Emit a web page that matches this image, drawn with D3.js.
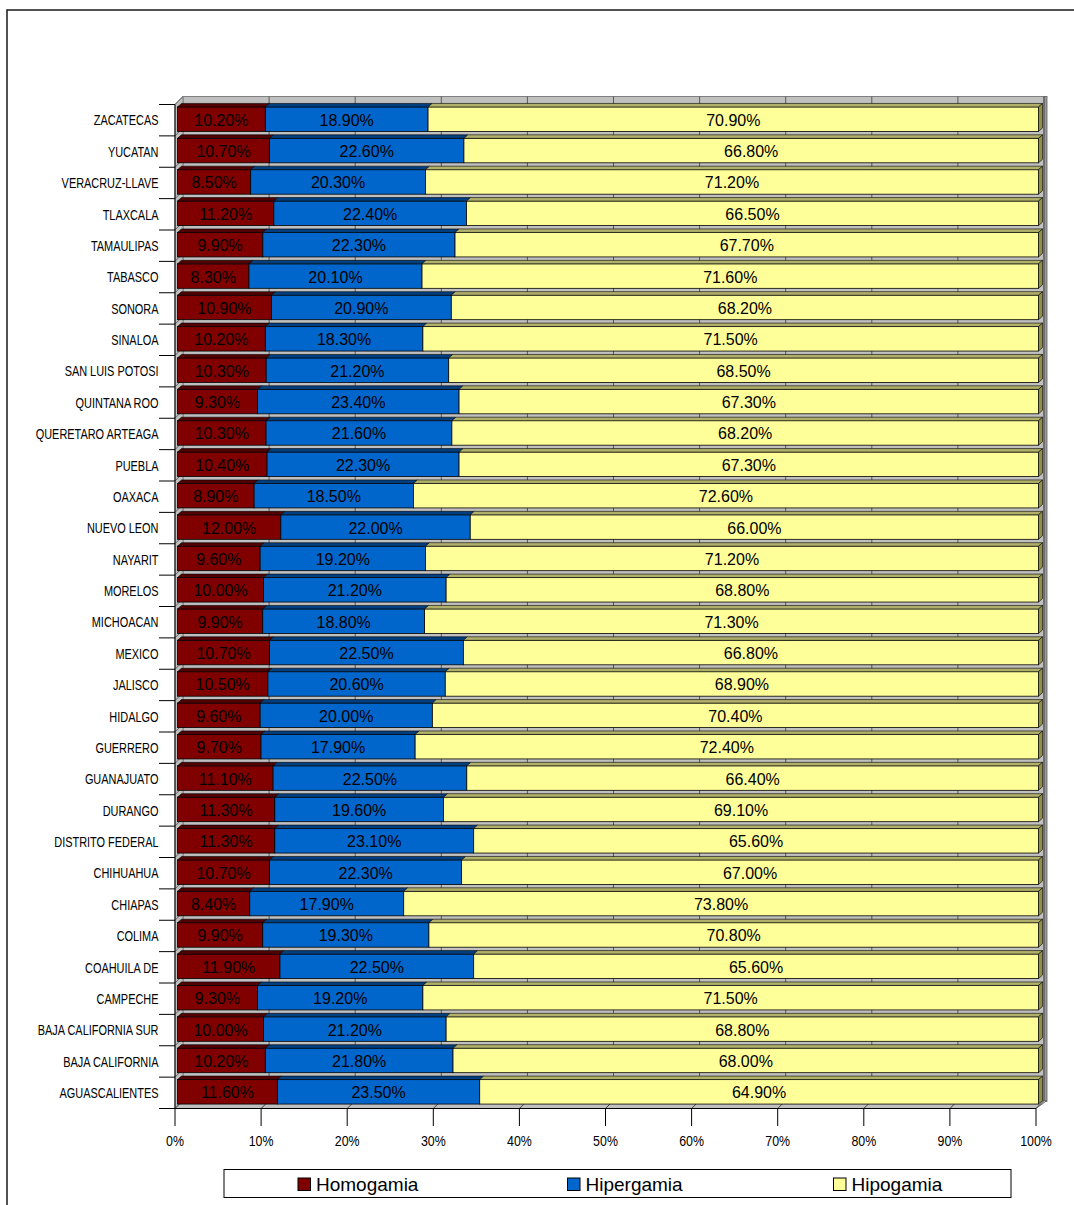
<!DOCTYPE html>
<html><head><meta charset="utf-8">
<script src="https://cdn.jsdelivr.net/npm/d3@7"></script>
<style>body{margin:0;background:#fff} svg{display:block}</style>
</head><body>
<script>
const categories = ["ZACATECAS","YUCATAN","VERACRUZ-LLAVE","TLAXCALA","TAMAULIPAS","TABASCO","SONORA","SINALOA","SAN LUIS POTOSI","QUINTANA ROO","QUERETARO ARTEAGA","PUEBLA","OAXACA","NUEVO LEON","NAYARIT","MORELOS","MICHOACAN","MEXICO","JALISCO","HIDALGO","GUERRERO","GUANAJUATO","DURANGO","DISTRITO FEDERAL","CHIHUAHUA","CHIAPAS","COLIMA","COAHUILA DE","CAMPECHE","BAJA CALIFORNIA SUR","BAJA CALIFORNIA","AGUASCALIENTES"];
const homogamia  = [10.2,10.7,8.5,11.2,9.9,8.3,10.9,10.2,10.3,9.3,10.3,10.4,8.9,12.0,9.6,10.0,9.9,10.7,10.5,9.6,9.7,11.1,11.3,11.3,10.7,8.4,9.9,11.9,9.3,10.0,10.2,11.6];
const hipergamia = [18.9,22.6,20.3,22.4,22.3,20.1,20.9,18.3,21.2,23.4,21.6,22.3,18.5,22.0,19.2,21.2,18.8,22.5,20.6,20.0,17.9,22.5,19.6,23.1,22.3,17.9,19.3,22.5,19.2,21.2,21.8,23.5];
const hipogamia  = [70.9,66.8,71.2,66.5,67.7,71.6,68.2,71.5,68.5,67.3,68.2,67.3,72.6,66.0,71.2,68.8,71.3,66.8,68.9,70.4,72.4,66.4,69.1,65.6,67.0,73.8,70.8,65.6,71.5,68.8,68.0,64.9];
const seriesNames = ["Homogamia","Hipergamia","Hipogamia"];
const xTicks = [0,0.1,0.2,0.3,0.4,0.5,0.6,0.7,0.8,0.9,1.0];

const series = [homogamia, hipergamia, hipogamia];
const frontColors = ["#800000","#0066CC","#FFFF99"];
const topColors = ["#520000","#003f80","#b0b06a"];
const sideColor = "#8f8f48";

const W = 1074, H = 1205;
const svg = d3.select("body").append("svg").attr("width", W).attr("height", H)
  .style("font-family", "'Liberation Sans', Arial, sans-serif");

const x = d3.scaleLinear().domain([0, 1]).range([175, 1036]);
const y = d3.scaleBand().domain(categories).range([104.5, 1108.5]).padding(0);
const DX = 8, DY = -8;       // wall depth
const BX = 2.5, BY = -1;     // bar front offset
const BDX = 4, BDY = -3.5;   // bar depth
const BH = 24.5;             // bar front height
const y0 = y.range()[0], y1 = y.range()[1];

// outer frame
svg.append("path").attr("d", `M7,${H} L7,10 L${W},10`).attr("fill", "none")
  .attr("stroke", "#1a1a1a").attr("stroke-width", 1.5);

// back wall
svg.append("rect").attr("x", x(0) + DX).attr("y", y0 + DY)
  .attr("width", x(1) - x(0)).attr("height", y1 - y0)
  .attr("fill", "#c0c0c0").attr("stroke", "#808080").attr("stroke-width", 1);
svg.append("rect").attr("x", x(1) + DX).attr("y", y0 + DY)
  .attr("width", 3).attr("height", y1 - y0 + 1)
  .attr("fill", "#9a9a9a").attr("stroke", "#606060").attr("stroke-width", 0.8);
// side wall
svg.append("polygon")
  .attr("points", [[x(0), y0], [x(0) + DX, y0 + DY], [x(0) + DX, y1 + DY], [x(0), y1]].join(" "))
  .attr("fill", "#c0c0c0").attr("stroke", "#808080").attr("stroke-width", 1);
// floor
svg.append("polygon")
  .attr("points", [[x(0), y1], [x(0) + DX, y1 + DY], [x(1) + DX + 3, y1 + DY], [x(1), y1]].join(" "))
  .attr("fill", "#c0c0c0").attr("stroke", "#707070").attr("stroke-width", 1);

// back-wall gridlines
svg.append("g").selectAll("line").data(xTicks.slice(1)).join("line")
  .attr("x1", d => x(d) + DX).attr("x2", d => x(d) + DX)
  .attr("y1", y0 + DY).attr("y2", y1 + DY)
  .attr("stroke", "#5a5a5a").attr("stroke-width", 1);
// floor gridlines
svg.append("g").selectAll("line").data(xTicks.slice(1)).join("line")
  .attr("x1", d => x(d)).attr("x2", d => x(d) + DX)
  .attr("y1", y1).attr("y2", y1 + DY)
  .attr("stroke", "#404040").attr("stroke-width", 1);
// side wall band lines
const bounds = categories.map(c => y(c)).concat([y1]);
svg.append("g").selectAll("line").data(bounds).join("line")
  .attr("x1", x(0)).attr("x2", x(0) + DX)
  .attr("y1", d => d).attr("y2", d => d + DY)
  .attr("stroke", "#606060").attr("stroke-width", 1);

// bars
const gBars = svg.append("g");
categories.forEach((c, i) => {
  const vals = series.map(s => s[i]);
  const total = d3.sum(vals);
  const yc = y(c) + y.bandwidth() / 2;
  const top = yc - BH / 2 + BY;
  let cum = 0;
  const segs = vals.map((v, j) => {
    const a = x(cum / total) + BX; cum += v;
    const b = x(cum / total) + BX;
    return {a, b, v, j};
  });
  const g = gBars.append("g");
  segs.forEach(s => {
    g.append("rect").attr("x", s.a).attr("y", top).attr("width", s.b - s.a).attr("height", BH)
      .attr("fill", frontColors[s.j]).attr("stroke", "#000").attr("stroke-width", 0.8);
  });
  segs.forEach(s => {
    g.append("polygon")
      .attr("points", [[s.a, top], [s.a + BDX, top + BDY], [s.b + BDX, top + BDY], [s.b, top]].join(" "))
      .attr("fill", topColors[s.j]).attr("stroke", "#000").attr("stroke-width", 0.6);
  });
  const last = segs[segs.length - 1];
  g.append("polygon")
    .attr("points", [[last.b, top], [last.b + BDX, top + BDY], [last.b + BDX, top + BH + BDY], [last.b, top + BH]].join(" "))
    .attr("fill", sideColor).attr("stroke", "#000").attr("stroke-width", 0.6);
  segs.forEach(s => {
    g.append("text").attr("x", (s.a + s.b) / 2).attr("y", yc + 5.5)
      .attr("text-anchor", "middle").attr("font-size", 16).attr("fill", "#000")
      .text(s.v.toFixed(2) + "%");
  });
  // category label
  svg.append("text").attr("transform", `translate(158.5,${yc + 5.2}) scale(0.77,1)`)
    .attr("text-anchor", "end").attr("font-size", 14.2).attr("fill", "#000").text(c);
});

// axes
svg.append("line").attr("x1", x(0)).attr("x2", x(0)).attr("y1", y0).attr("y2", y1)
  .attr("stroke", "#000").attr("stroke-width", 1);
svg.append("line").attr("x1", x(0)).attr("x2", x(1)).attr("y1", y1).attr("y2", y1)
  .attr("stroke", "#000").attr("stroke-width", 1);
svg.append("g").selectAll("line").data(bounds).join("line")
  .attr("x1", 159).attr("x2", x(0)).attr("y1", d => d).attr("y2", d => d)
  .attr("stroke", "#000").attr("stroke-width", 1);
svg.append("g").selectAll("line").data(xTicks).join("line")
  .attr("x1", d => x(d)).attr("x2", d => x(d)).attr("y1", y1).attr("y2", y1 + 17.5)
  .attr("stroke", "#000").attr("stroke-width", 1);
svg.append("g").selectAll("text").data(xTicks).join("text")
  .attr("transform", d => `translate(${x(d)},1146) scale(0.8,1)`)
  .attr("text-anchor", "middle").attr("font-size", 15.5).attr("fill", "#000")
  .text(d => d3.format(".0%")(d));

// legend
svg.append("rect").attr("x", 224).attr("y", 1169.5).attr("width", 787).attr("height", 28)
  .attr("fill", "#fff").attr("stroke", "#000").attr("stroke-width", 1);
const legendX = [298, 567.5, 833.5];
seriesNames.forEach((n, j) => {
  svg.append("rect").attr("x", legendX[j]).attr("y", 1178).attr("width", 12.5).attr("height", 12.5)
    .attr("fill", frontColors[j]).attr("stroke", "#000").attr("stroke-width", 1);
  svg.append("text").attr("x", legendX[j] + 18).attr("y", 1191)
    .attr("font-size", 19).attr("fill", "#000").text(n);
});
</script>
</body></html>
